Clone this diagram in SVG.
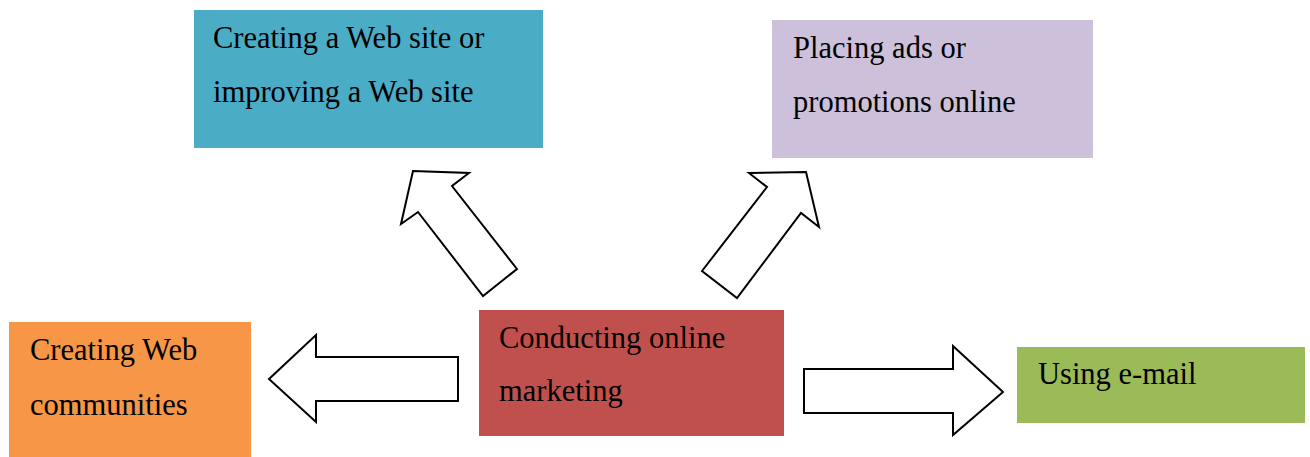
<svg xmlns="http://www.w3.org/2000/svg" width="1310" height="457" viewBox="0 0 1310 457">
<style>
.lbl{font-family:"Liberation Serif","Times New Roman",serif;font-size:30.5px;fill:#000}
.arr{fill:#fff;stroke:#000;stroke-width:2;stroke-linejoin:miter}
</style>
<rect width="1310" height="457" fill="#fff"/>
<g id="connectors">
<polygon class="arr" points="413,171 469,173 452,186 517,269 483,296 418,212 401,224"/>
<polygon class="arr" points="749,173 806,172 819,227 801,213 737,298 702,271 767,187"/>
<polygon class="arr" points="269,379 316,335 316,357 458,357 458,401 316,401 316,422"/>
<polygon class="arr" points="804,369 953,369 953,346 1003,392 953,435 953,413 804,413"/>
</g>
<g id="node-website">
<rect x="194" y="10" width="349" height="138" fill="#4BACC6"/>
<text class="lbl" x="213" y="48">Creating a Web site or</text>
<text class="lbl" x="213" y="102">improving a Web site</text>
</g>
<g id="node-ads">
<rect x="772" y="20" width="321" height="138" fill="#CCC0DA"/>
<text class="lbl" x="793" y="58">Placing ads or</text>
<text class="lbl" x="793" y="112">promotions online</text>
</g>
<g id="node-communities">
<rect x="9" y="322" width="242" height="135" fill="#F79646"/>
<text class="lbl" x="30" y="360">Creating Web</text>
<text class="lbl" x="30" y="415">communities</text>
</g>
<g id="node-center">
<rect x="479" y="310" width="305" height="126" fill="#C0504D"/>
<text class="lbl" x="499" y="348">Conducting online</text>
<text class="lbl" x="499" y="401">marketing</text>
</g>
<g id="node-email">
<rect x="1017" y="347" width="288" height="76" fill="#9BBB59"/>
<text class="lbl" x="1038" y="384">Using e-mail</text>
</g>
</svg>
